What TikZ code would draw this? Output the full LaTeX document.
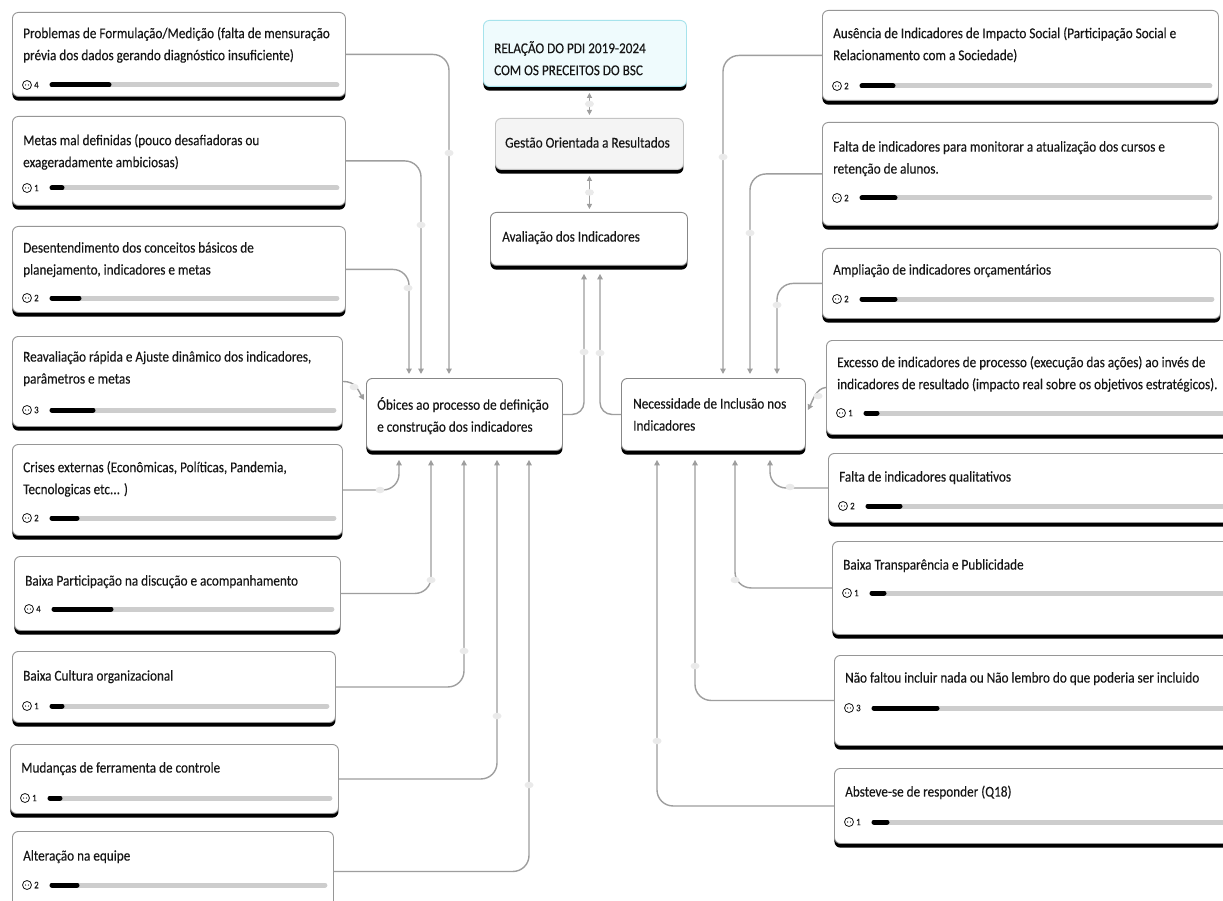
\documentclass[tikz,border=0pt]{standalone}
\usepackage{fontspec}
\setmainfont{Carlito}[FakeStretch=0.88,FakeBold=0.2]
\usetikzlibrary{arrows.meta,calc,shapes.geometric}

\definecolor{edge}{HTML}{969696}
\definecolor{wire}{HTML}{9E9E9E}
\definecolor{knot}{HTML}{EAEAEA}
\definecolor{track}{HTML}{CDCDCD}
\definecolor{ink}{HTML}{161616}
\definecolor{titlefill}{HTML}{EFFBFD}
\definecolor{titleedge}{HTML}{A6E3EC}
\definecolor{softfill}{HTML}{F4F4F4}
\definecolor{softedge}{HTML}{C4C4C4}

\tikzset{
  card/.style={draw=edge, line width=0.9pt, fill=white, rounded corners=6pt,
    inner sep=0pt, preaction={fill=black, transform canvas={yshift=-4.2pt}}},
  txt/.style={font=\fontsize{15}{22}\selectfont, text=ink, align=left,
    inner sep=0pt, anchor=north west, execute at begin node=\strut},
  num/.style={font=\fontsize{10}{11}\selectfont, text=ink, inner sep=0pt, anchor=west},
  faceico/.style={circle, draw=ink, line width=0.8pt, minimum size=9pt, inner sep=0pt},
  trackbar/.style={draw=track, line width=5pt, line cap=round},
  fillbar/.style={draw=black, line width=5pt, line cap=round},
  wireline/.style={draw=wire, line width=1.4pt, rounded corners=16pt,
    -{Triangle[length=5.5pt,width=5.5pt]}},
  twoway/.style={draw=wire, line width=1pt,
    {Triangle[length=5pt,width=5pt]}-{Triangle[length=5pt,width=5pt]}},
  knotmark/.style={ellipse, fill=knot, minimum width=9pt, minimum height=6.5pt, inner sep=0pt},
}

% answer card: name, top-left, width, height, first-line offset, count-row offset, count, filled length, text
\newcommand\answercard[9]{%
  \node[card, minimum width=#3pt, minimum height=#4pt, anchor=north west] (#1) at (#2) {};
  \node[txt] (#1-t) at ([shift={(11,#5-11)}]#1.north west) {#9};
  \node[faceico] (#1-i) at ([shift={(15,#6)}]#1.north west) {};
  \fill[ink] ([xshift=-1.4pt]#1-i.center) circle (0.65pt) ([xshift=1.4pt]#1-i.center) circle (0.65pt);
  \node[num] (#1-n) at ([shift={(22,#6)}]#1.north west) {#7};
  \draw[trackbar] ([shift={(40,#6)}]#1.north west) -- ([shift={(-9,#6)}]#1.north east);
  \draw[fillbar] ([shift={(40,#6)}]#1.north west) -- ([shift={(35+#8,#6)}]#1.north west);
}

\begin{document}
\begin{tikzpicture}[x=1pt,y=-1pt]
\path[use as bounding box] (0,0) rectangle (1223,901);
\clip (0,0) rectangle (1223,901);
\fill[white] (0,0) rectangle (1223,901);

% ---- central chain ----
\node[card, draw=titleedge, fill=titlefill, minimum width=203pt, minimum height=66pt, anchor=north west] (title) at (483,20) {};
\node[txt] (title-t) at ([shift={(11,21)}]title.north west) {RELAÇÃO DO PDI 2019-2024\\COM OS PRECEITOS DO BSC};

\node[card, draw=softedge, fill=softfill, minimum width=188pt, minimum height=51pt, anchor=north west] (gestao) at (495,118) {};
\node[txt] (gestao-t) at ([shift={(10,14)}]gestao.north west) {Gestão Orientada a Resultados};

\node[card, draw=edge!90!black, minimum width=197pt, minimum height=53pt, anchor=north west] (aval) at (490,212) {};
\node[txt] (aval-t) at ([shift={(12,14)}]aval.north west) {Avaliação dos Indicadores};

\node[card, draw=edge!90!black, minimum width=196pt, minimum height=72pt, anchor=north west] (obices) at (366,378) {};
\node[txt] (obices-t) at ([shift={(11,19)}]obices.north west) {Óbices ao processo de definição\\e construção dos indicadores};

\node[card, draw=edge!90!black, minimum width=184pt, minimum height=72pt, anchor=north west] (nec) at (621,378) {};
\node[txt] (nec-t) at ([shift={(12,20)}]nec.north west) {Necessidade de Inclusão nos\\Indicadores};

% ---- left answers ----
\answercard{l1}{12,12}{333}{84}{26}{73}{4}{62}{Problemas de Formulação/Medição (falta de mensuração\\prévia dos dados gerando diagnóstico insuficiente)}
\answercard{l2}{12,116}{333}{89}{29}{72}{1}{15}{Metas mal definidas (pouco desafiadoras ou\\exageradamente ambiciosas)}
\answercard{l3}{12,226}{333}{86}{27}{72}{2}{32}{Desentendimento dos conceitos básicos de\\planejamento, indicadores e metas}
\answercard{l4}{12,336}{330}{90}{26}{74}{3}{46}{Reavaliação rápida e Ajuste dinâmico dos indicadores,\\parâmetros e metas}
\answercard{l5}{12,444}{330}{91}{28}{74}{2}{30}{Crises externas (Econômicas, Políticas, Pandemia,\\Tecnologicas etc... )}
\answercard{l6}{14,556}{326}{74}{25}{53}{4}{62}{Baixa Participação na discução e acompanhamento}
\answercard{l7}{12,651}{323}{71}{25}{55}{1}{15}{Baixa Cultura organizacional}
\answercard{l8}{10,744}{328}{69}{24}{54}{1}{15}{Mudanças de ferramenta de controle}
\answercard{l9}{12,831}{321}{80}{25}{54}{2}{30}{Alteração na equipe}

% ---- right answers ----
\answercard{r1}{822,10}{396}{90}{28}{76}{2}{36}{Ausência de Indicadores de Impacto Social (Participação Social e\\Relacionamento com a Sociedade)}
\answercard{r2}{822,122}{396}{103}{30}{76}{2}{38}{Falta de indicadores para monitorar a atualização dos cursos e\\retenção de alunos.}
\answercard{r3}{822,248}{398}{70}{22}{51}{2}{38}{Ampliação de indicadores orçamentários}
\answercard{r4}{826,340}{410}{94}{27}{73}{1}{16}{Excesso de indicadores de processo (execução das ações) ao invés de\\indicadores de resultado (impacto real sobre os objetivos estratégicos).}
\answercard{r5}{828,453}{410}{69}{24}{53}{2}{37}{Falta de indicadores qualitativos}
\answercard{r6}{832,541}{410}{93}{24}{52}{1}{17}{Baixa Transparência e Publicidade}
\answercard{r7}{834,655}{410}{90}{23}{53}{3}{68}{Não faltou incluir nada ou Não lembro do que poderia ser incluido}
\answercard{r8}{834,768}{410}{75}{24}{54}{1}{18}{Absteve-se de responder (Q18)}

% ---- central links ----
\draw[twoway] ($(gestao.north |- title.south)+(0,6)$) -- ($(gestao.north)+(0,-3)$);
\node[knotmark] (k-tg) at ($(gestao.north |- title.south)!0.5!(gestao.north)+(0,1.5)$) {};
\draw[twoway] ($(gestao.south)+(0,6)$) -- ($(gestao.south |- aval.north)+(0,-3)$);
\node[knotmark] (k-ga) at ($(gestao.south)!0.5!(gestao.south |- aval.north)+(0,1.5)$) {};

\draw[wireline, rounded corners=12pt] (obices.east) -| ([shift={(94,8)}]aval.south west);
\draw[wireline, rounded corners=12pt] (nec.west) -| ([shift={(110,8)}]aval.south west);
\node[knotmark] (k-oa) at (584,352) {};
\node[knotmark] (k-na) at (600,353) {};

% ---- left links into Óbices ----
\draw[wireline] (l1.east) -| ([shift={(83,-4)}]obices.north west);
\draw[wireline] (l2.east) -| ([shift={(55,-4)}]obices.north west);
\draw[wireline] (l3.east) -| ([shift={(43,-4)}]obices.north west);
\draw[wireline] (l4.east) .. controls +(13,0) and +(-6,-10) .. ([shift={(-2,22)}]obices.north west);
\draw[wireline] (l5.east) -| ([shift={(33,9)}]obices.south west);
\draw[wireline] (l6.east) -| ([shift={(65,9)}]obices.south west);
\draw[wireline] (l7.east) -| ([shift={(98,9)}]obices.south west);
\draw[wireline] (l8.east) -| ([shift={(131,9)}]obices.south west);
\draw[wireline] (l9.east) -| ([shift={(163,9)}]obices.south west);
\node[knotmark] (k-l1) at (449,153) {};
\node[knotmark] (k-l2) at (421,225) {};
\node[knotmark] (k-l3) at (408,288) {};
\node[knotmark] (k-l4) at (354,387) {};
\node[knotmark] (k-l5) at (380,490) {};
\node[knotmark] (k-l6) at (431,580) {};
\node[knotmark] (k-l7) at (464,651) {};
\node[knotmark] (k-l8) at (497,716) {};
\node[knotmark] (k-l9) at (529,785) {};

% ---- right links into Necessidade ----
\draw[wireline] (r1.west) -| ([shift={(102,-4)}]nec.north west);
\draw[wireline] (r2.west) -| ([shift={(129,-4)}]nec.north west);
\draw[wireline] (r3.west) -| ([shift={(156,-4)}]nec.north west);
\draw[wireline] (r4.west) .. controls +(-10,1) and +(5,-10) .. ([shift={(2,32)}]nec.north east);
\draw[wireline] (r5.west) -| ([shift={(149,9)}]nec.south west);
\draw[wireline] (r6.west) -| ([shift={(114,9)}]nec.south west);
\draw[wireline] (r7.west) -| ([shift={(74,9)}]nec.south west);
\draw[wireline] (r8.west) -| ([shift={(36,9)}]nec.south west);
\node[knotmark] (k-r1) at (723,157) {};
\node[knotmark] (k-r2) at (750,233) {};
\node[knotmark] (k-r3) at (777,305) {};
\node[knotmark] (k-r4) at (818,396) {};
\node[knotmark] (k-r5) at (790,487) {};
\node[knotmark] (k-r6) at (735,580) {};
\node[knotmark] (k-r7) at (695,666) {};
\node[knotmark] (k-r8) at (657,741) {};
\end{tikzpicture}
\end{document}
